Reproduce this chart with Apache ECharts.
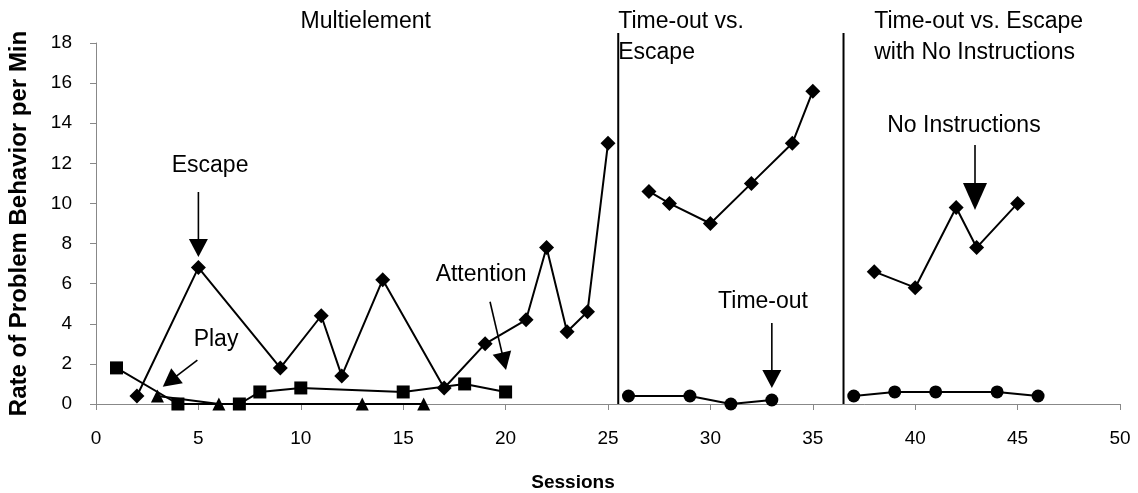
<!DOCTYPE html>
<html><head><meta charset="utf-8">
<script src="https://cdn.jsdelivr.net/npm/echarts@6/dist/echarts.min.js"></script>
<style>html,body{margin:0;padding:0;background:#fff}#c{width:1138px;height:493px}</style>
</head><body><div id="c"></div>
<script>
// ---- data ----
const escape1Sessions = [2, 5, 9, 11, 12, 14, 17, 19, 21, 22, 23, 24, 25];
const escape1Values   = [0.4, 6.8, 1.8, 4.4, 1.4, 6.2, 0.8, 3.0, 4.2, 7.8, 3.6, 4.6, 13.0];
const escape2Sessions = [27, 28, 30, 32, 34, 35];
const escape2Values   = [10.6, 10.0, 9.0, 11.0, 13.0, 15.6];
const escape3Sessions = [38, 40, 42, 43, 45];
const escape3Values   = [6.6, 5.8, 9.8, 7.8, 10.0];
const attentionSessions = [1, 4, 7, 8, 10, 15, 18, 20];
const attentionValues   = [1.8, 0, 0, 0.6, 0.8, 0.6, 1.0, 0.6];
const playSessions = [3, 6, 13, 16];
const playValues   = [0.4, 0, 0, 0];
const timeout2Sessions = [26, 29, 31, 33];
const timeout2Values   = [0.4, 0.4, 0, 0.2];
const timeout3Sessions = [37, 39, 41, 44, 46];
const timeout3Values   = [0.4, 0.6, 0.6, 0.6, 0.4];
const phaseChanges = [25.5, 36.5];
const phaseTitles = [
  {lines: ['Multielement'], x: 13.17, align: 'center'},
  {lines: ['Time-out vs.', 'Escape'], x: 25.5, align: 'left'},
  {lines: ['Time-out vs. Escape', 'with No Instructions'], x: 38.0, align: 'left'}
];
const annotations = [
  {text: 'Escape', at: [5.57, 11.86], from: [5, 10.57], to: [5, 7.33], head: [19, 18]},
  {text: 'Play', at: [5.86, 3.19], from: [4.95, 2.19], to: [3.26, 0.86], head: [19, 18]},
  {text: 'Attention', at: [18.8, 6.43], from: [19.24, 5.10], to: [20.02, 1.69], head: [19, 18]},
  {text: 'Time-out', at: [32.57, 5.08], from: [33, 4.04], to: [33, 0.80], head: [19, 18]},
  {text: 'No Instructions', at: [42.38, 13.86], from: [42.92, 12.91], to: [42.92, 9.67], head: [24, 27]}
];

const FONT = "'Liberation Sans', Arial, sans-serif";
const zip = (xs, ys) => xs.map((x, i) => [x, ys[i]]);

function mkSeries(name, xs, ys, symbol, size) {
  return {
    name, type: 'line', data: zip(xs, ys), symbol, symbolSize: size,
    showAllSymbol: true, silent: true, clip: false,
    lineStyle: {color: '#000', width: 2},
    itemStyle: {color: '#000', borderWidth: 0},
    emphasis: {disabled: true}
  };
}

const chart = echarts.init(document.getElementById('c'));
const axisCommon = {
  axisLine: {show: true, onZero: false, lineStyle: {color: '#888', width: 1}},
  axisTick: {show: true, length: 6, lineStyle: {color: '#888', width: 1}},
  splitLine: {show: false},
  axisLabel: {color: '#000', fontSize: 19, fontFamily: FONT}
};
chart.setOption({
  animation: false,
  grid: {left: 96, right: 18, top: 43, bottom: 89, containLabel: false, outerBoundsMode: 'none'},
  xAxis: Object.assign({}, axisCommon, {
    type: 'value', min: 0, max: 50, interval: 5,
    axisLabel: Object.assign({}, axisCommon.axisLabel, {margin: 25}),
    name: 'Sessions', nameLocation: 'middle', nameGap: 69,
    nameTextStyle: {fontWeight: 'bold', fontSize: 19, color: '#000', fontFamily: FONT, padding: [0, 70, 0, 0]}
  }),
  yAxis: Object.assign({}, axisCommon, {
    type: 'value', min: 0, max: 18, interval: 2,
    axisLabel: Object.assign({}, axisCommon.axisLabel, {margin: 24}),
    name: 'Rate of Problem Behavior per Min', nameLocation: 'middle', nameGap: 65,
    nameTextStyle: {fontWeight: 'bold', fontSize: 24, color: '#000', fontFamily: FONT}
  }),
  series: [
    mkSeries('Attention', attentionSessions, attentionValues, 'rect', 13),
    mkSeries('Play', playSessions, playValues, 'triangle', 13),
    mkSeries('Escape', escape1Sessions, escape1Values, 'diamond', 15),
    mkSeries('Escape', escape2Sessions, escape2Values, 'diamond', 15),
    mkSeries('Escape', escape3Sessions, escape3Values, 'diamond', 15),
    mkSeries('Time-out', timeout2Sessions, timeout2Values, 'circle', 13),
    mkSeries('Time-out', timeout3Sessions, timeout3Values, 'circle', 13)
  ]
});

function px(p) { return chart.convertToPixel({gridIndex: 0}, p); }
const g = [];
const topY = 33;
phaseChanges.forEach(x => {
  const b = px([x, 0]);
  g.push({type: 'line', shape: {x1: b[0], y1: b[1], x2: b[0], y2: topY},
          style: {stroke: '#000', lineWidth: 2}, silent: true, z: 10});
});
phaseTitles.forEach(t => {
  const p = px([t.x, 0]);
  t.lines.forEach((ln, i) => {
    g.push({type: 'text', x: p[0], y: 21.5 + i * 31,
            style: {text: ln, fill: '#000', font: '23px ' + FONT, textAlign: t.align, textVerticalAlign: 'middle'},
            silent: true, z: 10});
  });
});
annotations.forEach(a => {
  const c = px(a.at), s = px(a.from), e = px(a.to);
  g.push({type: 'text', x: c[0], y: c[1],
          style: {text: a.text, fill: '#000', font: '23px ' + FONT, textAlign: 'center', textVerticalAlign: 'middle'},
          silent: true, z: 10});
  const dx = e[0] - s[0], dy = e[1] - s[1], L = Math.hypot(dx, dy);
  const ux = dx / L, uy = dy / L, nx = -uy, ny = ux;
  const w = a.head[0], h = a.head[1];
  const bx = e[0] - ux * h, by = e[1] - uy * h;
  g.push({type: 'line', shape: {x1: s[0], y1: s[1], x2: bx + ux * 2, y2: by + uy * 2},
          style: {stroke: '#000', lineWidth: 1.6}, silent: true, z: 10});
  g.push({type: 'polygon', shape: {points: [[e[0], e[1]], [bx + nx * w / 2, by + ny * w / 2], [bx - nx * w / 2, by - ny * w / 2]]},
          style: {fill: '#000'}, silent: true, z: 10});
});
chart.setOption({graphic: g});
</script>
</body></html>
